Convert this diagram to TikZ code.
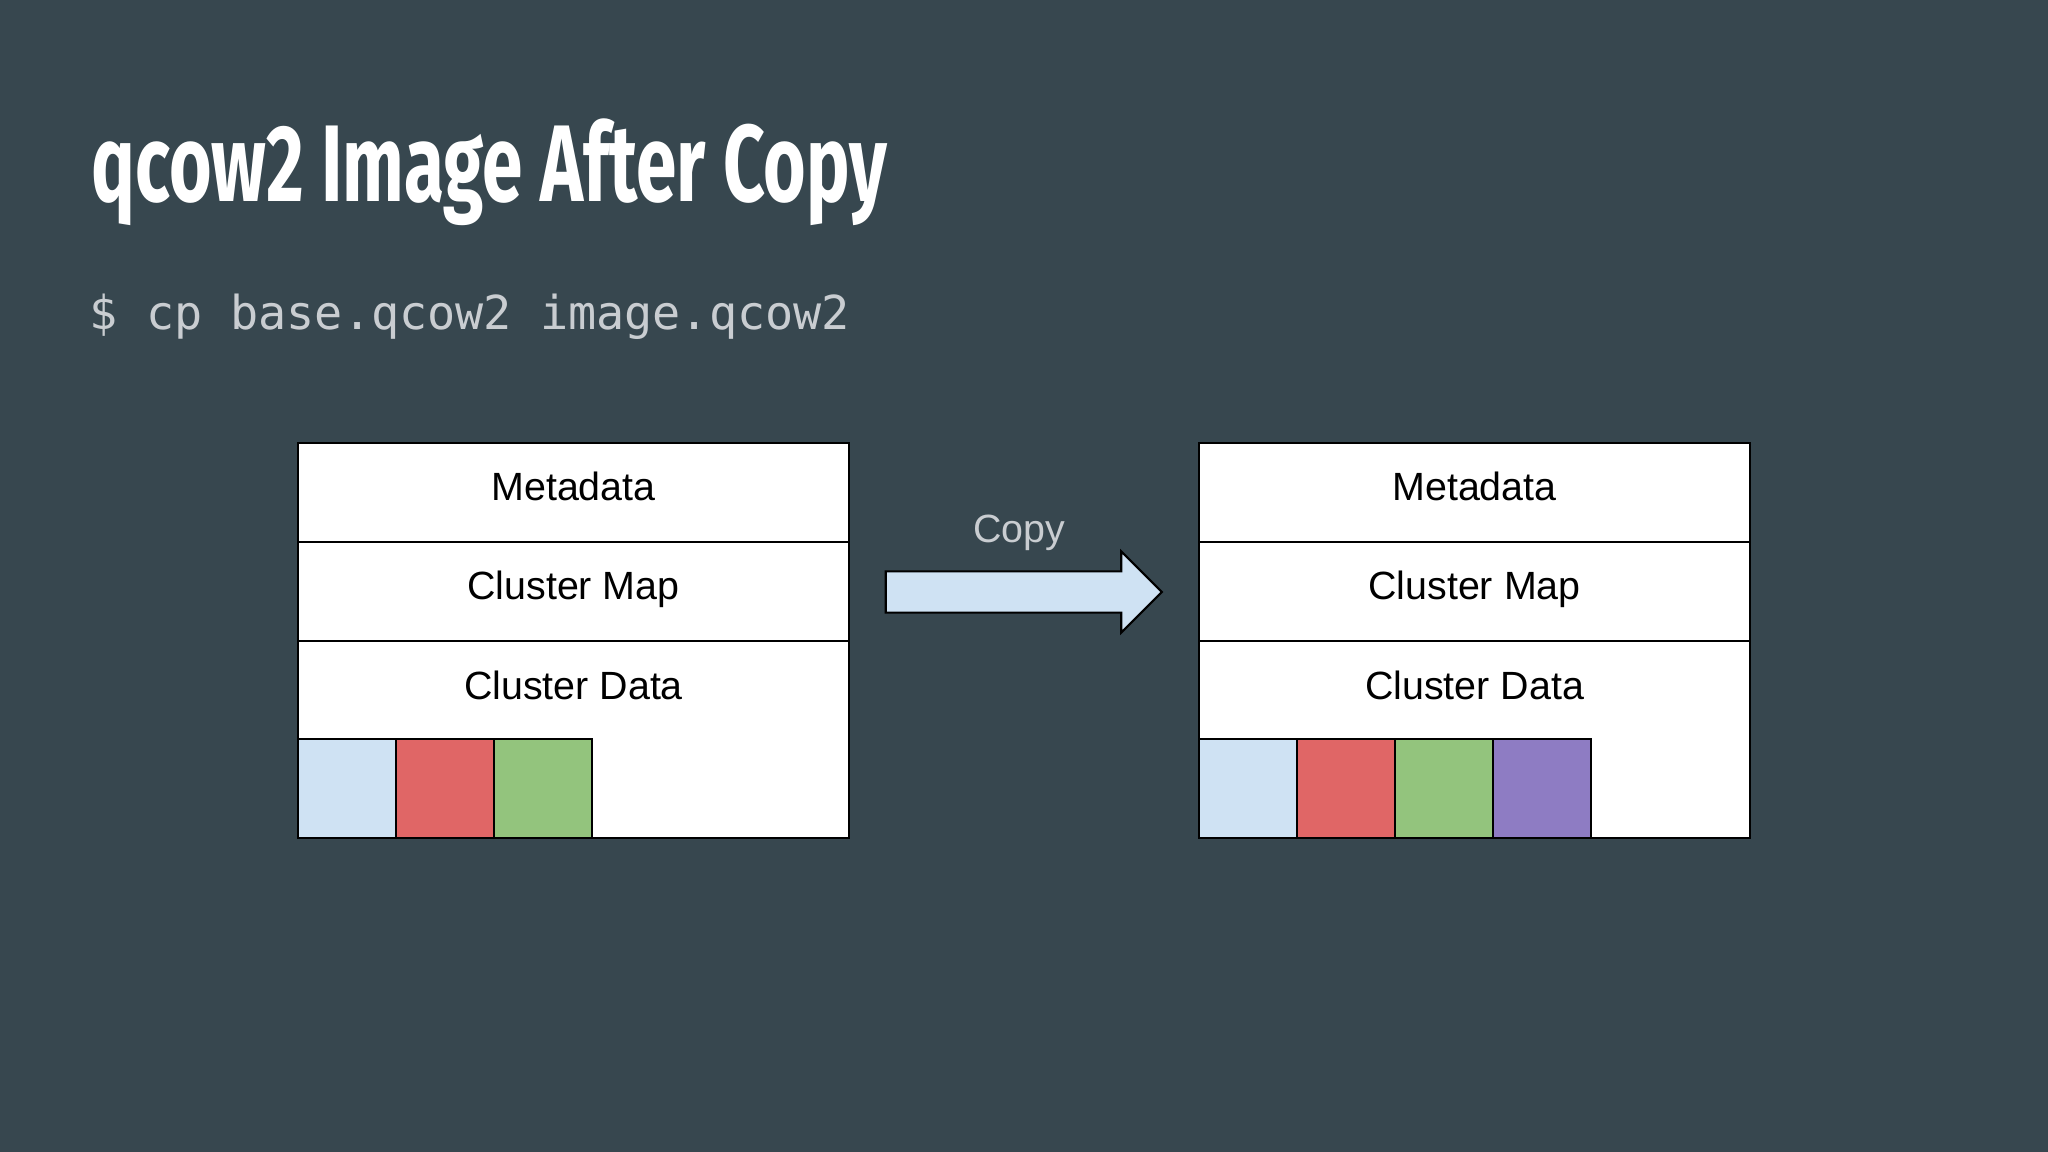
\documentclass[tikz,border=0pt]{standalone}
\usepackage{fontspec}
\setmainfont{Liberation Sans}
\newfontfamily\titlefont[FakeStretch=0.67]{Fira Sans}
\newfontfamily\cmdfont{DejaVu Sans Mono}
\usetikzlibrary{positioning,shapes.arrows}

\definecolor{slatebg}{HTML}{37474F}
\definecolor{cblue}{HTML}{CFE2F3}
\definecolor{cred}{HTML}{E06666}
\definecolor{cgreen}{HTML}{93C47D}
\definecolor{cpurple}{HTML}{8E7CC3}
\definecolor{softgray}{HTML}{C9CDD1}

\tikzset{
  cell/.style={draw=black, fill=white, line width=0.6pt, outer sep=0pt, inner sep=0pt,
    minimum width=5.51cm, minimum height=0.99cm, celltext},
  celltext/.style={font=\fontsize{11.2}{13}\selectfont, text height=0.3cm, text depth=0.138cm, inner sep=0pt},
  blk/.style={draw=black, line width=0.6pt, outer sep=0pt, inner sep=0pt,
    minimum width=0.98cm, minimum height=0.99cm}
}

\begin{document}
\begin{tikzpicture}[x=0.01cm, y=-0.01cm]
            \fill[slatebg] (0,0) rectangle (2048,1152);
            \useasboundingbox (0,0) rectangle (2048,1152);

            \node[anchor=base west, inner sep=0pt, text=white, font=\titlefont\bfseries\fontsize{31}{36}\selectfont] (title) at (91,202) {qcow2 Image After Copy};
            \node[anchor=base west, inner sep=0pt, text=softgray, font=\cmdfont\fontsize{13.3}{16}\selectfont] (cmd) at (89,330) {\$ cp base.qcow2 image.qcow2};

            % base.qcow2
            \node[cell] (Lmeta) at (573.5,492.5) {Metadata};
            \node[cell, below=0cm of Lmeta] (Lmap) {Cluster Map};
            \node[cell, below=0cm of Lmap, minimum height=1.97cm] (Ldata) {};
            \node[celltext] (LdataText) at ([yshift=-0.50cm]Ldata.north) {Cluster Data};
            \node[blk, fill=cblue, anchor=south west] (La) at (Ldata.south west) {};
            \node[blk, fill=cred, right=0cm of La] (Lb) {};
            \node[blk, fill=cgreen, right=0cm of Lb] (Lc) {};

            % image.qcow2
            \node[cell] (Rmeta) at (1474.5,492.5) {Metadata};
            \node[cell, below=0cm of Rmeta] (Rmap) {Cluster Map};
            \node[cell, below=0cm of Rmap, minimum height=1.97cm] (Rdata) {};
            \node[celltext] (RdataText) at ([yshift=-0.50cm]Rdata.north) {Cluster Data};
            \node[blk, fill=cblue, anchor=south west] (Ra) at (Rdata.south west) {};
            \node[blk, fill=cred, right=0cm of Ra] (Rb) {};
            \node[blk, fill=cgreen, right=0cm of Rb] (Rc) {};
            \node[blk, fill=cpurple, right=0cm of Rc] (Rd) {};

            % copy arrow
            \node[single arrow, draw=black, fill=cblue, line width=0.6pt, inner xsep=0pt, inner ysep=0.195cm,
              minimum height=2.76cm, single arrow head extend=0.2cm] (copyarrow) at (1013.5,592) {};
            \node[celltext, text=softgray] (copylbl) at (1019,534.5) {Copy};
\end{tikzpicture}
\end{document}
